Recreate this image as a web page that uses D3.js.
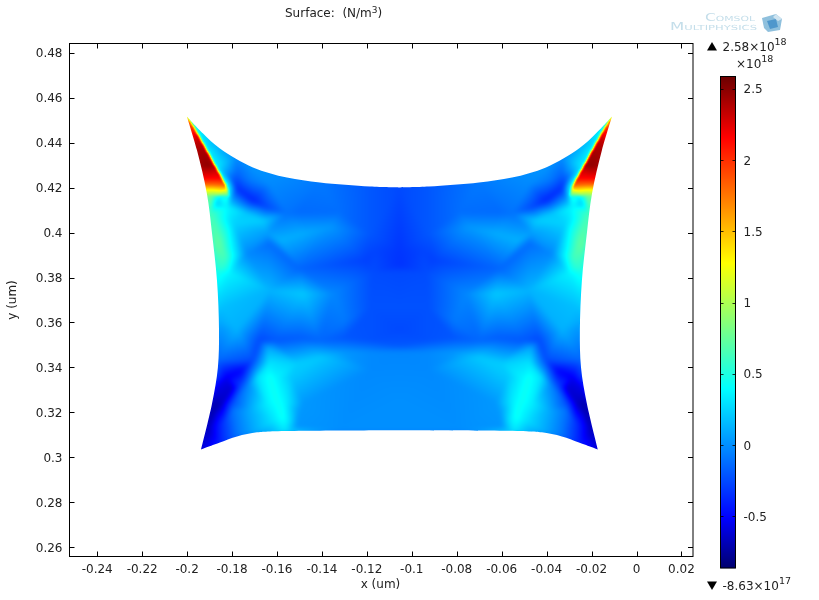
<!DOCTYPE html>
<html><head><meta charset="utf-8">
<script src="https://cdn.jsdelivr.net/npm/d3@7/dist/d3.min.js"></script>
<style>
html,body{margin:0;padding:0;background:#fff;overflow:hidden}
#wrap{position:relative;width:819px;height:600px}
canvas,svg{position:absolute;left:0;top:0}
text{font-family:"DejaVu Sans",sans-serif;fill:#222}
</style></head><body><div id="wrap"><canvas id="c" width="819" height="600"></canvas><svg id="s" width="819" height="600"></svg></div>
<script>
const xTicks=[-0.24,-0.22,-0.2,-0.18,-0.16,-0.14,-0.12,-0.1,-0.08,-0.06,-0.04,-0.02,0,0.02];
const yTicks=[0.26,0.28,0.3,0.32,0.34,0.36,0.38,0.4,0.42,0.44,0.46,0.48];
const barTicks=[2.5,2,1.5,1,0.5,0,-0.5];
const xDomain=[-0.25234,0.02514], yDomain=[0.25586,0.48416];
const mirrorX=-0.1055;
const vMin=-0.863, vMax=2.58;
const colorStops=[-0.863,-0.51,0.40,1.28,2.16,2.58];
const colorValues=["#00006e","#0000ff","#00ffff","#ffff00","#ff0000","#6e0000"];
// outline, left half (top edge, left edge, bottom edge)
const topEdge=[[-.2001,.4517],[-.1929,.4441],[-.1854,.4374],[-.1707,.4290],[-.1556,.4245],[-.1409,.4223],[-.1186,.4205],[-.1055,.4201]];
const leftEdge=[[-.2001,.4517],[-.1956,.4366],[-.1912,.4174],[-.1889,.3996],[-.1867,.3787],[-.1858,.3565],[-.1863,.3400],[-.1889,.3240],[-.1938,.3035]];
const bottomEdge=[[-.1938,.3035],[-.1854,.3066],[-.1778,.3093],[-.1689,.3111],[-.1631,.3115],[-.1055,.3120]];
// hot wedge in the upper corners: its outline and its own nodes [x um, y um, value 1e18 N/m3]
const hotOutline=[[-.2001,.4521],[-.1974,.4477],[-.1949,.4432],[-.1912,.4366],[-.1876,.4299],[-.1843,.4241],[-.1827,.4210],[-.1818,.4188],[-.1814,.4161],[-.1929,.4161],[-.1938,.4188],[-.1943,.4214],[-.1952,.4241],[-.1965,.4299],[-.1979,.4366],[-.2001,.4455],[-.2010,.4499]];
const hotNodes=[[-.2001,.4521,1.6],[-.1974,.4477,2.0],[-.1949,.4432,2.3],[-.1912,.4366,2.4],[-.1876,.4299,2.42],[-.1843,.4241,2.15],[-.1827,.4210,1.8],[-.1818,.4188,1.2],[-.1814,.4161,.55],[-.1929,.4161,.85],[-.1938,.4188,1.25],[-.1943,.4214,1.8],[-.1952,.4241,2.15],[-.1965,.4299,2.4],[-.1979,.4366,2.4],[-.2001,.4455,1.9],[-.2010,.4499,1.6],[-.1939,.4366,2.42],[-.1907,.4299,2.48],[-.1889,.4241,2.15],[-.1889,.4214,1.8],[-.1889,.4188,1.25],[-.1876,.4161,.75]];
// mesh nodes of the left half: [x um, y um, value 1e18 N/m3]
const tipNodes=[[-.2001,.4517,.4],[-.1969,.4477,.4],[-.1945,.4432,.35],[-.1909,.4366,.35],[-.1872,.4299,.35],[-.1840,.4241,.42],[-.1823,.4210,.5],[-.1898,.4161,.85],[-.1823,.4165,.55],[-.1925,.4241,.85],[-.1956,.4366,.6]];
const upperNodes=[[-.1863,.4152,.3],[-.1889,.4085,.62],[-.1903,.4085,.65],[-.1867,.4130,.2],[-.1823,.4112,.38],[-.1734,.4085,.2],[-.1662,.4054,.22],[-.1796,.4041,.25],[-.1854,.3952,.72],[-.1880,.3952,.72],[-.1831,.3895,.65],[-.1809,.3921,.45],[-.1872,.3831,.5],[-.1845,.3841,.55],[-.1809,.3818,.35],[-.1734,.3907,-.02],[-.1645,.3996,.05],[-.1631,.3952,-.12],[-.1498,.3840,-.15],[-.1587,.3965,.12],[-.1484,.3996,.1],[-.1364,.4023,.03],[-.1498,.4090,-.13],[-.1556,.4085,-.1],[-.1645,.4112,-.25],[-.1707,.4143,-.38],[-.1778,.4196,-.35],[-.1809,.4245,-.12],[-.1778,.4263,-.15],[-.1631,.4214,-.02],[-.1778,.4334,-.02],[-.1885,.4397,.13],[-.1498,.4165,-.08],[-.1720,.4232,-.08]];
const topEdgeNodes=[[-.1929,.4441,.3],[-.1854,.4374,.12],[-.1707,.4290,.02],[-.1556,.4245,-.02],[-.1409,.4223,-.08],[-.1186,.4205,-.2],[-.1055,.4201,-.25]];
const centreNodes=[[-.1320,.4090,-.12],[-.1186,.3996,-.2],[-.1155,.3921,-.27],[-.1055,.3921,-.32],[-.1055,.3854,-.33],[-.1209,.3876,-.28],[-.1173,.3823,-.24],[-.1055,.3823,-.25]];
const middleNodes=[[-.1351,.3729,-.03],[-.1484,.3729,.2],[-.1631,.3743,.13],[-.1573,.3578,-.08],[-.1298,.3609,-.08],[-.1225,.3609,-.22],[-.1186,.3667,-.22],[-.1055,.3667,-.22],[-.1055,.3565,-.25],[-.1609,.3520,-.2],[-.1498,.3529,-.18],[-.1409,.3520,-.15],[-.1306,.3529,-.2],[-.1186,.3520,-.22],[-.1055,.3498,-.2],[-.1676,.3520,-.25],[-.1867,.3698,.25],[-.1840,.3667,.17],[-.1858,.3609,.1],[-.1854,.3578,.03],[-.1778,.3565,.12]];
const wedgeNodes=[[-.1863,.3431,-.15],[-.1869,.3364,-.3],[-.1823,.3355,-.55],[-.1707,.3431,-.25],[-.1756,.3387,-.5],[-.1800,.3306,-.62],[-.1875,.3298,-.58],[-.1889,.3240,-.72],[-.1885,.3209,-.72],[-.1845,.3240,-.66],[-.1796,.3240,-.22],[-.1765,.3320,-.3],[-.1728,.3320,-.02],[-.1704,.3387,-.05],[-.1796,.3209,-.1],[-.1720,.3209,.1],[-.1707,.3111,.08],[-.1778,.3093,-.1],[-.1840,.3151,-.32],[-.1854,.3066,-.4],[-.1938,.3035,-.6],[-.1916,.3128,-.72]];
const ridgeNodes=[[-.1640,.3484,.1],[-.1636,.3420,.3],[-.1631,.3355,.44],[-.1685,.3355,.3],[-.1600,.3355,.36],[-.1537,.3355,.2],[-.1600,.3253,.44],[-.1645,.3240,.34],[-.1564,.3240,.36],[-.1573,.3177,.44],[-.1618,.3164,.3],[-.1542,.3164,.28],[-.1564,.3115,.3],[-.1631,.3115,.12],[-.1511,.3133,.02],[-.1511,.3418,.22],[-.1409,.3444,.2],[-.1306,.3467,.03],[-.1186,.3467,-.02],[-.1186,.3387,-.02],[-.1055,.3467,-.03],[-.1511,.3209,.08],[-.1484,.3240,.03],[-.1055,.3253,0],[-.1055,.3120,0],[-.1320,.3120,0]];

const L=69.5,R=693,T=43.5,B=556.5;
const x=d3.scaleLinear().domain(xDomain).range([L,R]);
const y=d3.scaleLinear().domain(yDomain).range([B,T]);
const color=d3.scaleLinear().domain(colorStops).range(colorValues).interpolate(d3.interpolateRgb).clamp(true);
const W=819,H=600;

// ---- surface: a value field rasterised from the meshes, then coloured
function toPoints(nodes){
  const pts=[];
  nodes.forEach(n=>{
    pts.push([x(n[0]),y(n[1]),n[2]]);
    if(Math.abs(n[0]-mirrorX)>1e-4) pts.push([x(2*mirrorX-n[0]),y(n[1]),n[2]]);
  });
  return pts;
}
function rasterise(pts,field,inside){
  const tri=d3.Delaunay.from(pts,p=>p[0],p=>p[1]).triangles;
  for(let t=0;t<tri.length;t+=3){
    const a=pts[tri[t]],b=pts[tri[t+1]],c=pts[tri[t+2]];
    const den=(b[1]-c[1])*(a[0]-c[0])+(c[0]-b[0])*(a[1]-c[1]);
    if(Math.abs(den)<1e-9) continue;
    const x0=Math.max(0,Math.floor(Math.min(a[0],b[0],c[0]))),x1=Math.min(W-1,Math.ceil(Math.max(a[0],b[0],c[0])));
    const y0=Math.max(0,Math.floor(Math.min(a[1],b[1],c[1]))),y1=Math.min(H-1,Math.ceil(Math.max(a[1],b[1],c[1])));
    for(let py=y0;py<=y1;py++)for(let px=x0;px<=x1;px++){
      const u=((b[1]-c[1])*(px+.5-c[0])+(c[0]-b[0])*(py+.5-c[1]))/den;
      const v=((c[1]-a[1])*(px+.5-c[0])+(a[0]-c[0])*(py+.5-c[1]))/den;
      const w=1-u-v;
      if(u<-.01||v<-.01||w<-.01) continue;
      if(inside&&!inside(px+.5,py+.5)) continue;
      field[py*W+px]=u*a[2]+v*b[2]+w*c[2];
    }
  }
}
function boxBlur(f,r){
  let out=new Float32Array(f.length).fill(NaN);
  for(let py=0;py<H;py++)for(let px=r;px<W-r;px++){
    let s=0,n=0;for(let k=-r;k<=r;k++){const q=f[py*W+px+k];if(!isNaN(q)){s+=q;n++;}}
    if(n&&!isNaN(f[py*W+px])) out[py*W+px]=s/n;
  }
  const o2=new Float32Array(f.length).fill(NaN);
  for(let py=r;py<H-r;py++)for(let px=0;px<W;px++){
    let s=0,n=0;for(let k=-r;k<=r;k++){const q=out[(py+k)*W+px];if(!isNaN(q)){s+=q;n++;}}
    if(n&&!isNaN(out[py*W+px])) o2[py*W+px]=s/n;
  }
  return o2;
}
let field=new Float32Array(W*H).fill(NaN);
rasterise(toPoints([tipNodes,upperNodes,topEdgeNodes,centreNodes,middleNodes,wedgeNodes,ridgeNodes].flat()),field,null);
field=boxBlur(boxBlur(field,2),2);
const polyL=hotOutline.map(p=>[x(p[0]),y(p[1])]);
const polyR=hotOutline.map(p=>[x(2*mirrorX-p[0]),y(p[1])]);
rasterise(toPoints(hotNodes),field,(a,b)=>d3.polygonContains(polyL,[a,b])||d3.polygonContains(polyR,[a,b]));
field=boxBlur(boxBlur(field,1),1);

const off=document.createElement('canvas');off.width=W;off.height=H;
const oc=off.getContext('2d');
const img=oc.createImageData(W,H);
for(let i=0;i<W*H;i++){
  if(isNaN(field[i])) continue;
  const col=d3.rgb(color(field[i]));
  img.data[i*4]=col.r;img.data[i*4+1]=col.g;img.data[i*4+2]=col.b;img.data[i*4+3]=255;
}
oc.putImageData(img,0,0);
const ctx=document.getElementById('c').getContext('2d');
ctx.fillStyle='#fff';ctx.fillRect(0,0,W,H);
const mir=p=>[2*mirrorX-p[0],p[1]];
const curve=d3.curveCatmullRom.alpha(0.5);
const seg=pp=>d3.line().x(d=>x(d[0])).y(d=>y(d[1])).curve(curve)(pp);
const joined=[seg(topEdge),
  seg(topEdge.map(mir).reverse()).replace(/^M/,'L'),
  seg(leftEdge.map(mir)).replace(/^M/,'L'),
  seg(bottomEdge.map(mir)).replace(/^M/,'L'),
  seg(bottomEdge.slice().reverse()).replace(/^M/,'L'),
  seg(leftEdge.slice().reverse()).replace(/^M/,'L'),'Z'].join('');
ctx.save();
ctx.clip(new Path2D(joined));
ctx.drawImage(off,0,0);
ctx.restore();

// ---- axes
const svg=d3.select('#s');
const fs=12;
svg.append('rect').attr('x',L).attr('y',T).attr('width',R-L).attr('height',B-T).attr('fill','none').attr('stroke','#000');
const g=svg.append('g').attr('stroke','#000');
xTicks.forEach(t=>{const p=Math.round(x(t))+.5;
  g.append('line').attr('x1',p).attr('x2',p).attr('y1',B).attr('y2',B-5);
  g.append('line').attr('x1',p).attr('x2',p).attr('y1',T).attr('y2',T+5);});
yTicks.forEach(t=>{const p=Math.round(y(t))+.5;
  g.append('line').attr('x1',L).attr('x2',L+5).attr('y1',p).attr('y2',p);
  g.append('line').attr('x1',R).attr('x2',R-5).attr('y1',p).attr('y2',p);});
svg.selectAll('.xl').data(xTicks).join('text').attr('x',d=>x(d)).attr('y',573).attr('text-anchor','middle').attr('font-size',fs).text(d=>String(d));
svg.selectAll('.yl').data(yTicks).join('text').attr('x',62.5).attr('y',d=>y(d)+4.5).attr('text-anchor','end').attr('font-size',fs).text(d=>String(d));
svg.append('text').attr('x',380.5).attr('y',588).attr('text-anchor','middle').attr('font-size',12).text('x (um)');
svg.append('text').attr('transform','translate(16,300) rotate(-90)').attr('text-anchor','middle').attr('font-size',12).text('y (um)');
const title=svg.append('text').attr('x',285).attr('y',17).attr('font-size',12).attr('xml:space','preserve');
title.append('tspan').text('Surface:  (N/m');
title.append('tspan').attr('dy',-4).attr('font-size',9).text('3');
title.append('tspan').attr('dy',4).text(')');

// ---- colour bar
const barL=720.5,barR=735.5,barT=76.5,barB=568;
const by=d3.scaleLinear().domain([vMin,vMax]).range([568.2,77.6]);
svg.append('g').selectAll('rect').data(d3.range(Math.floor(barT),Math.ceil(barB))).join('rect')
  .attr('x',barL).attr('y',d=>d).attr('width',barR-barL).attr('height',1.2)
  .attr('fill',d=>color(by.invert(d+.5)));
svg.append('rect').attr('x',barL).attr('y',barT).attr('width',barR-barL).attr('height',barB-barT).attr('fill','none').attr('stroke','#000');
const bg=svg.append('g').attr('stroke','#000').attr('opacity',.8);
barTicks.forEach(t=>{const p=Math.round(by(t))+.5;
  bg.append('line').attr('x1',barL).attr('x2',barL+3).attr('y1',p).attr('y2',p);
  bg.append('line').attr('x1',barR).attr('x2',barR-3).attr('y1',p).attr('y2',p);});
svg.selectAll('.bl').data(barTicks).join('text').attr('x',743.5).attr('y',d=>by(d)+4.5).attr('font-size',fs).text(d=>String(d));

function sci(px,py,base,exp){
  const t=svg.append('text').attr('x',px).attr('y',py).attr('font-size',fs);
  t.append('tspan').text(base+'\u00d710');
  t.append('tspan').attr('dy',-6).attr('font-size',9.5).text(exp);
}
svg.append('path').attr('d','M707,50.5L712,42L717,50.5Z').attr('fill','#000');
sci(722.5,51,'2.58','18');
sci(736,68,'','18');
svg.append('path').attr('d','M707,581.5L717,581.5L712,590Z').attr('fill','#000');
sci(722.5,590,'-8.63','17');

// ---- logo
const logo=svg.append('g');
logo.append('text').attr('x',705).attr('y',21).attr('font-size',10).attr('textLength',50).attr('lengthAdjust','spacingAndGlyphs').style('font-variant','small-caps').style('fill','#c4deea').text('Comsol');
logo.append('text').attr('x',670).attr('y',30).attr('font-size',10).attr('textLength',87).attr('lengthAdjust','spacingAndGlyphs').style('font-variant','small-caps').style('fill','#c4deea').text('Multiphysics');
logo.append('path').attr('d','M762,18L776,14L782,19L780,30L768,32L764,28Z').attr('fill','#8fc0dd');
logo.append('path').attr('d','M767,21L776,19L778,27L770,29Z').attr('fill','#4f97cc');
logo.append('path').attr('d','M776,14L782,19L778,21L773,17Z').attr('fill','#cfe4f0');
</script></body></html>
